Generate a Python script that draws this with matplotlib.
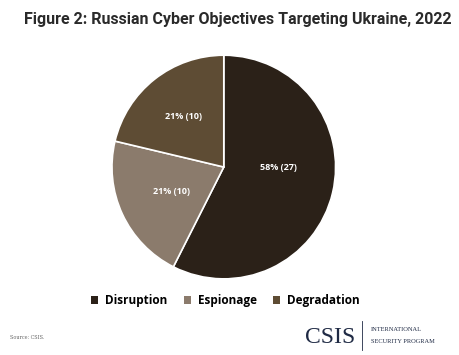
import numpy as np
import matplotlib
matplotlib.use("Agg")
import matplotlib.pyplot as plt
from matplotlib.patches import Patch

categories = ["Disruption", "Espionage", "Degradation"]
counts = [27, 10, 10]
pct_labels = ["58% (27)", "21% (10)", "21% (10)"]
colors = ["#2b2118", "#8b7b6c", "#5e4c34"]

fig = plt.figure(figsize=(4.6, 3.55), dpi=100)
fig.patch.set_facecolor("white")

fig.text(0.052, 0.945, "Figure 2: Russian Cyber Objectives Targeting Ukraine, 2022",
         fontsize=11.5, fontweight="bold", family="Roboto", color="#2a2a2a",
         va="center", ha="left")

ax = fig.add_axes([0.241, 0.211, 0.491, 0.637])
wedges, _ = ax.pie(counts, colors=colors, startangle=90, counterclock=False,
                   wedgeprops=dict(edgecolor="white", linewidth=1.2))
ax.set_xlim(-1.01, 1.01)
ax.set_ylim(-1.01, 1.01)
ax.set_aspect("equal")

# labels inside each wedge
for w, lab, d in zip(wedges, pct_labels, [0.49, 0.52, 0.58]):
    ang = np.deg2rad((w.theta1 + w.theta2) / 2)
    if lab == pct_labels[0]:
        ang = 0.0
    ax.text(d * np.cos(ang), d * np.sin(ang), lab, ha="center", va="center",
            color="white", fontsize=6.5, fontweight="bold", family="Open Sans")

handles = [Patch(facecolor=c, edgecolor="none") for c in colors]
fig.legend(handles, categories, loc="center", bbox_to_anchor=(0.49, 0.153),
           ncol=3, frameon=False, prop=dict(family="Open Sans", weight="bold", size=8.5),
           handlelength=0.6, handleheight=0.6, handletextpad=0.6, columnspacing=1.4)

fig.text(0.022, 0.05, "Source: CSIS.", fontsize=3.5, color="#666666",
         family="DejaVu Serif", va="center")
fig.text(0.663, 0.05, "CSIS", fontsize=17, color="#1f2a44",
         family="Liberation Serif", va="center", ha="left")
fig.add_artist(plt.Line2D([0.787, 0.787], [0.015, 0.095], color="#1f2a44",
                          linewidth=0.6, transform=fig.transFigure))
fig.text(0.806, 0.072, "INTERNATIONAL", fontsize=4.6, color="#1f2a44",
         family="Liberation Serif", va="center", ha="left")
fig.text(0.806, 0.037, "SECURITY PROGRAM", fontsize=4.6, color="#1f2a44",
         family="Liberation Serif", va="center", ha="left")

fig.savefig("out.png", dpi=100, facecolor="white")
